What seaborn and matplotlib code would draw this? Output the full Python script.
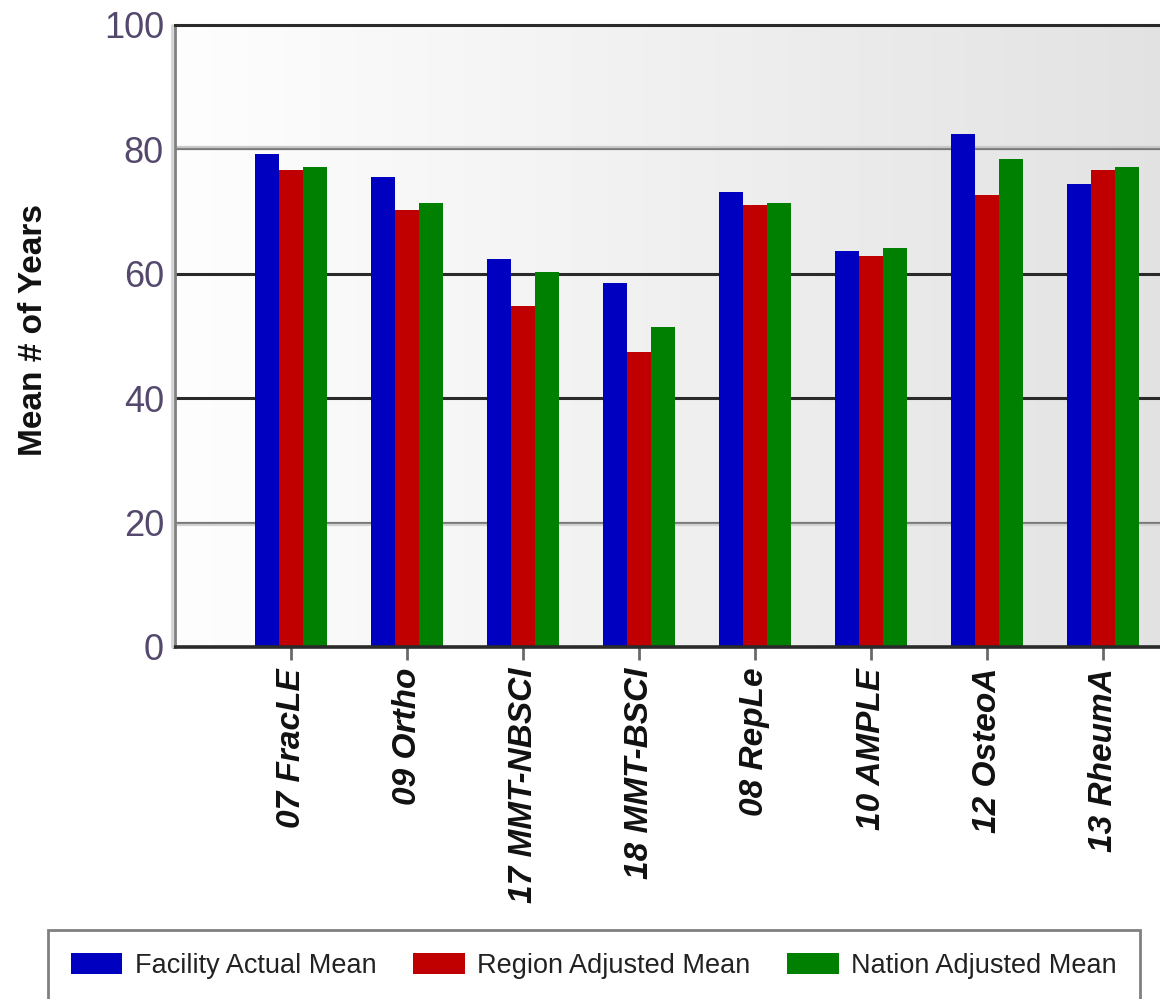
import numpy as np
import pandas as pd
import matplotlib
matplotlib.use("Agg")
import matplotlib.pyplot as plt
import seaborn as sns

# ---- data -------------------------------------------------------------
categories = ["07 FracLE", "09 Ortho", "17 MMT-NBSCI", "18 MMT-BSCI",
              "08 RepLe", "10 AMPLE", "12 OsteoA", "13 RheumA"]
facility_actual = [79.2, 75.5, 62.4, 58.6, 73.2, 63.7, 82.4, 74.5]
region_adjusted = [76.7, 70.2, 54.8, 47.5, 71.0, 62.9, 72.6, 76.7]
nation_adjusted = [77.1, 71.4, 60.3, 51.5, 71.4, 64.2, 78.4, 77.1]
series_names = ["Facility Actual Mean", "Region Adjusted Mean", "Nation Adjusted Mean"]
series_colors = ["#0000c0", "#c00000", "#008000"]
y_ticks = [0, 20, 40, 60, 80, 100]

df = pd.DataFrame({
    "Category": categories * 3,
    "Series": np.repeat(series_names, len(categories)),
    "Value": facility_actual + region_adjusted + nation_adjusted,
})

sns.set_theme(style="white")
plt.rcParams["font.family"] = ["Liberation Sans", "DejaVu Sans"]

W, H = 1160, 999
fig = plt.figure(figsize=(W / 100, H / 100), dpi=100)
fig.patch.set_facecolor("white")
ax = fig.add_axes([175 / W, (H - 647) / H, 1044 / W, 622 / H])

# plot-area background: white fading to light grey towards the right
ramp = np.linspace(254, 225, 256) / 255.0
grad = np.dstack([ramp, ramp, ramp]).reshape(1, 256, 3)
ax.imshow(grad, extent=(-1, 8, 0, 100), aspect="auto",
          interpolation="bilinear", zorder=0)

# horizontal grid lines
ax.axhline(20, color="#7a7a7a", lw=1.6, zorder=0.6)
ax.axhline(20 - 0.35, color="#d2d2d2", lw=1.6, zorder=0.6)
ax.axhline(40, color="#2a2a2a", lw=2.2, zorder=0.6)
ax.axhline(60, color="#2a2a2a", lw=2.2, zorder=0.6)
ax.axhline(80, color="#7a7a7a", lw=1.6, zorder=0.6)
ax.axhline(80 + 0.35, color="#c8c8c8", lw=1.6, zorder=0.6)

sns.barplot(data=df, x="Category", y="Value", hue="Series",
            order=categories, hue_order=series_names,
            palette=series_colors, saturation=1, width=0.62,
            linewidth=0, ax=ax, zorder=2)

ax.set_xlim(-1, 8)
ax.set_ylim(0, 100)
ax.set_yticks(y_ticks)
ax.set_xlabel("")
ax.set_ylabel("Mean # of Years", fontsize=24, fontweight="bold",
              color="#111111")
ax.yaxis.set_label_coords(-0.121, 0.51)

ax.spines["right"].set_visible(False)
ax.spines["top"].set_color("#2a2a2a")
ax.spines["top"].set_linewidth(2.2)
ax.spines["bottom"].set_color("#2a2a2a")
ax.spines["bottom"].set_linewidth(2.6)
ax.spines["left"].set_color("#808080")
ax.spines["left"].set_linewidth(2.0)
ax.plot([-1.022, -1.022], [0, 100], color="#d4d4d4", lw=2.0,
        clip_on=False, zorder=5)

ax.tick_params(axis="x", bottom=True, length=9, width=2, color="#6a6a6a",
               pad=6, labelsize=24, labelrotation=90, direction="out",
               labelcolor="#111111")
ax.tick_params(axis="y", left=False, length=0, pad=8, labelsize=26,
               labelcolor="#54486c")
for lbl in ax.get_xticklabels():
    lbl.set_fontweight("bold")
    lbl.set_fontstyle("italic")

handles, labels = ax.get_legend_handles_labels()
if ax.get_legend() is not None:
    ax.get_legend().remove()
leg = fig.legend(handles, labels, loc="upper left",
                 bbox_to_anchor=(48 / W, (H - 930) / H, (1140 - 48) / W, 0),
                 mode="expand", ncol=3, frameon=True, fancybox=False,
                 borderaxespad=0, edgecolor="#808080", facecolor="white",
                 framealpha=1, handlelength=1.9, handleheight=0.8,
                 handletextpad=0.47, borderpad=0.85,
                 prop={"size": 19.5})
leg.get_frame().set_linewidth(2)
for t in leg.get_texts():
    t.set_color("#222222")

fig.savefig("out.png", dpi=100)
